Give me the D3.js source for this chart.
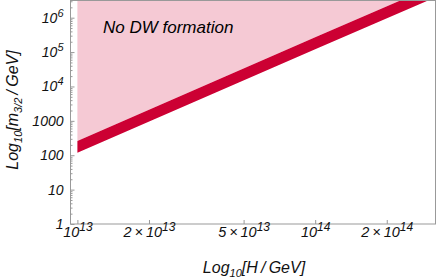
<!DOCTYPE html>
<html>
<head>
<meta charset="utf-8">
<script src="https://cdn.jsdelivr.net/npm/d3@7"></script>
<style>
  html, body { margin: 0; padding: 0; background: #fff; }
  svg { display: block; font-family: "Liberation Sans", Arial, sans-serif; }
</style>
</head>
<body>
<svg id="chart" width="436" height="279"></svg>
<script>
// Hubble scale H (GeV) where the band edges were read
const hubble = [1e13, 1e14, 3.2e14];
// gravitino mass band edges (GeV)
const bandUpper = [260, 2.7e5, 8.7e6];
const bandLower = [118, 1.2e5, 3.9e6];

const yTicks = [1, 10, 100, 1000, 1e4, 1e5, 1e6];
const yTickLabels = [['1'], ['10'], ['100'], ['1000'], ['10', '4'], ['10', '5'], ['10', '6']];
const xTicks = [1e13, 2e13, 5e13, 1e14, 2e14];
const xTickLabels = [['10', '13'], ['2\u2009×\u200910', '13'], ['5\u2009×\u200910', '13'], ['10', '14'], ['2\u2009×\u200910', '14']];

const regionLabel = 'No DW formation';

let svg = d3.select('#chart');

let plotLeft = 70.5, plotRight = 435.5, plotTop = 0.5, plotBottom = 224;

let x = d3.scaleLog()
  .domain([Math.pow(10, 12.971), Math.pow(10, 14.506)])
  .range([plotLeft, plotRight]);

let y = d3.scaleLog()
  .domain([1, Math.pow(10, 6.5)])
  .range([plotBottom, plotTop]);

svg.append('clipPath').attr('id', 'plotclip')
  .append('rect')
  .attr('x', plotLeft).attr('y', plotTop)
  .attr('width', plotRight - plotLeft).attr('height', plotBottom - plotTop);

let band = hubble.map((h, i) => ({ h: h, lo: bandLower[i], hi: bandUpper[i] }));

let plot = svg.append('g').attr('clip-path', 'url(#plotclip)');

// pink region above the band
plot.append('path')
  .datum(band)
  .attr('fill', '#f5c9d4')
  .attr('d', d3.area()
    .x(d => x(d.h))
    .y0(() => plotTop - 1)
    .y1(d => y(d.hi)));

// red band
plot.append('path')
  .datum(band)
  .attr('fill', '#cc0033')
  .attr('d', d3.area()
    .x(d => x(d.h))
    .y0(d => y(d.lo))
    .y1(d => y(d.hi)));

// region label
svg.append('text')
  .attr('x', 103)
  .attr('y', 33)
  .attr('font-size', 17)
  .attr('font-style', 'italic')
  .attr('fill', '#000')
  .text(regionLabel);

// frame
svg.append('rect')
  .attr('x', plotLeft).attr('y', plotTop)
  .attr('width', plotRight - plotLeft).attr('height', plotBottom - plotTop)
  .attr('fill', 'none')
  .attr('stroke', '#999')
  .attr('stroke-width', 1);

function supLabel(sel, parts, supSize) {
  sel.text(null);
  sel.append('tspan').text(parts[0]);
  if (parts[1]) {
    sel.append('tspan').attr('font-size', supSize).attr('dy', '-6').text(parts[1]);
  }
}

// y axis minor ticks (inward)
let yMinor = [];
for (let d = 1; d < 1e7; d *= 10) {
  for (let k = 2; k <= 9; k++) {
    if (d * k <= y.domain()[1]) yMinor.push(d * k);
  }
}
svg.append('g')
  .attr('transform', 'translate(' + plotLeft + ',0)')
  .call(d3.axisLeft(y).tickValues(yMinor).tickSize(-2).tickFormat(''))
  .call(g => g.select('.domain').remove())
  .call(g => g.selectAll('line').attr('stroke', '#999'));

let yAxis = svg.append('g')
  .attr('transform', 'translate(' + plotLeft + ',0)')
  .call(d3.axisLeft(y).tickValues(yTicks).tickSize(-4).tickPadding(7))
  .call(g => g.select('.domain').remove());
yAxis.selectAll('line').attr('stroke', '#999');
yAxis.selectAll('text')
  .attr('font-size', 14)
  .attr('font-style', 'italic')
  .attr('font-family', '"Liberation Sans", Arial, sans-serif')
  .attr('fill', '#111')
  .each(function (d, i) { supLabel(d3.select(this), yTickLabels[i], 11); });

// x axis
let xAxis = svg.append('g')
  .attr('transform', 'translate(0,' + plotBottom + ')')
  .call(d3.axisBottom(x).tickValues(xTicks).tickSize(-4).tickPadding(3))
  .call(g => g.select('.domain').remove());
xAxis.selectAll('line').attr('stroke', '#999');
xAxis.selectAll('text')
  .attr('font-size', 14.5)
  .attr('font-style', 'italic')
  .attr('font-family', '"Liberation Sans", Arial, sans-serif')
  .attr('fill', '#111')
  .each(function (d, i) { supLabel(d3.select(this), xTickLabels[i], 12); });

// axis titles
let xt = svg.append('text')
  .attr('x', 254)
  .attr('y', 273)
  .attr('text-anchor', 'middle')
  .attr('font-size', 16)
  .attr('font-style', 'italic')
  .attr('fill', '#111');
xt.append('tspan').text('Log');
xt.append('tspan').attr('font-size', 11).attr('dy', 4).text('10');
xt.append('tspan').attr('dy', -4).text('[H\u2009/\u2009GeV]');

let yt = svg.append('text')
  .attr('transform', 'translate(18,110) rotate(-90)')
  .attr('text-anchor', 'middle')
  .attr('font-size', 16)
  .attr('font-style', 'italic')
  .attr('fill', '#111');
yt.append('tspan').text('Log');
yt.append('tspan').attr('font-size', 11).attr('dy', 4).text('10');
yt.append('tspan').attr('dy', -4).text('[m');
yt.append('tspan').attr('font-size', 11).attr('dy', 4).text('3/2');
yt.append('tspan').attr('dy', -4).text('\u2009/\u2009GeV]');
</script>
</body>
</html>
